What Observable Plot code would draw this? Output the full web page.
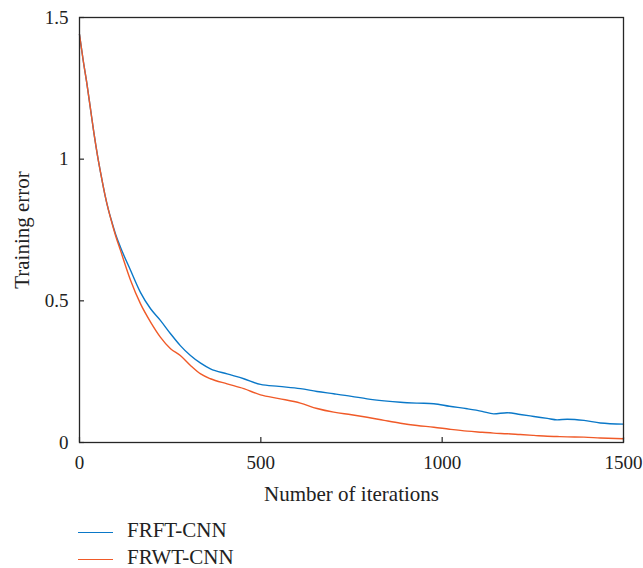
<!DOCTYPE html>
<html>
<head>
<meta charset="utf-8">
<script src="https://cdn.jsdelivr.net/npm/d3@7"></script>
<script src="https://cdn.jsdelivr.net/npm/@observablehq/plot@0.6"></script>
<style>
  html, body { margin: 0; padding: 0; background: #fff; }
  #chart { width: 643px; }
  .legend { font-family: "Liberation Serif", "DejaVu Serif", serif; font-size: 21px; color: #222; margin-top: 12px; }
  .legend .row { display: flex; align-items: center; height: 27px; }
  .legend .swatch { display: inline-block; width: 35px; height: 0; border-top: 1.6px solid; margin-left: 78px; margin-right: 14px; position: relative; top: 2px; }
</style>
</head>
<body>
<div id="chart"></div>
<script>
// Training error versus iteration for the two networks
const seriesNames = ["FRFT-CNN", "FRWT-CNN"];
const seriesColors = ["#0A78C8", "#F05A28"];

const iterations = [0, 10, 20, 30, 40, 50, 60, 70, 80, 90, 100, 113, 141, 168, 196, 223, 251, 278, 306, 334, 361, 407, 453, 499, 550, 609, 655, 701, 750, 793, 840, 885, 931, 977, 1020, 1069, 1110, 1142, 1179, 1215, 1253, 1290, 1317, 1345, 1391, 1436, 1500];

const frftCnn = [1.44, 1.35, 1.27, 1.18, 1.09, 1.01, 0.94, 0.875, 0.82, 0.775, 0.733, 0.689, 0.607, 0.53, 0.472, 0.431, 0.384, 0.342, 0.307, 0.28, 0.26, 0.242, 0.225, 0.205, 0.198, 0.19, 0.18, 0.172, 0.163, 0.154, 0.147, 0.142, 0.139, 0.137, 0.128, 0.119, 0.11, 0.101, 0.105, 0.099, 0.092, 0.085, 0.08, 0.082, 0.078, 0.069, 0.065];

const frwtCnn = [1.44, 1.35, 1.27, 1.18, 1.09, 1.01, 0.94, 0.875, 0.82, 0.772, 0.728, 0.678, 0.572, 0.49, 0.425, 0.372, 0.331, 0.307, 0.272, 0.242, 0.225, 0.207, 0.19, 0.168, 0.155, 0.139, 0.12, 0.107, 0.098, 0.089, 0.078, 0.068, 0.06, 0.054, 0.047, 0.04, 0.036, 0.033, 0.031, 0.028, 0.025, 0.022, 0.021, 0.02, 0.019, 0.016, 0.013];

const xTicks = [0, 500, 1000, 1500];
const yTicks = [0, 0.5, 1, 1.5];

const rows = [];
[frftCnn, frwtCnn].forEach((values, s) => {
  values.forEach((v, i) => rows.push({series: seriesNames[s], iter: iterations[i], err: v}));
});

const plot = Plot.plot({
  width: 643,
  height: 505,
  marginTop: 17,
  marginBottom: 63,
  marginLeft: 79,
  marginRight: 20,
  style: {fontFamily: "Liberation Serif, DejaVu Serif, serif", fontSize: "19px", background: "#fff", color: "#222"},
  x: {domain: [0, 1500]},
  y: {domain: [0, 1.5]},
  color: {domain: seriesNames, range: seriesColors},
  marks: [
    Plot.lineY(rows, {x: "iter", y: "err", z: "series", stroke: "series", strokeWidth: 1.4, curve: "monotone-x"}),
    Plot.frame({stroke: "#262626", strokeWidth: 1.3}),
    Plot.axisX({ticks: xTicks, tickSize: -5, tickPadding: 18, tickFormat: d => String(d), label: null, stroke: "#262626", strokeWidth: 1.2, fontSize: 19}),
    Plot.axisY({ticks: yTicks, tickSize: -5, tickPadding: 16, tickFormat: d => String(d), label: null, stroke: "#262626", strokeWidth: 1.2, fontSize: 19}),
    Plot.text(["Number of iterations"], {text: d => d, frameAnchor: "bottom", dy: 58, lineAnchor: "bottom", fontSize: 21}),
    Plot.text(["Training error"], {text: d => d, frameAnchor: "left", rotate: -90, dx: -51, lineAnchor: "bottom", textAnchor: "middle", fontSize: 21})
  ]
});

const chart = document.getElementById("chart");
chart.appendChild(plot);

const legend = document.createElement("div");
legend.className = "legend";
seriesNames.forEach((name, i) => {
  const row = document.createElement("div");
  row.className = "row";
  const sw = document.createElement("span");
  sw.className = "swatch";
  sw.style.borderTopColor = seriesColors[i];
  const label = document.createElement("span");
  label.textContent = name;
  row.appendChild(sw);
  row.appendChild(label);
  legend.appendChild(row);
});
chart.appendChild(legend);
</script>
</body>
</html>
